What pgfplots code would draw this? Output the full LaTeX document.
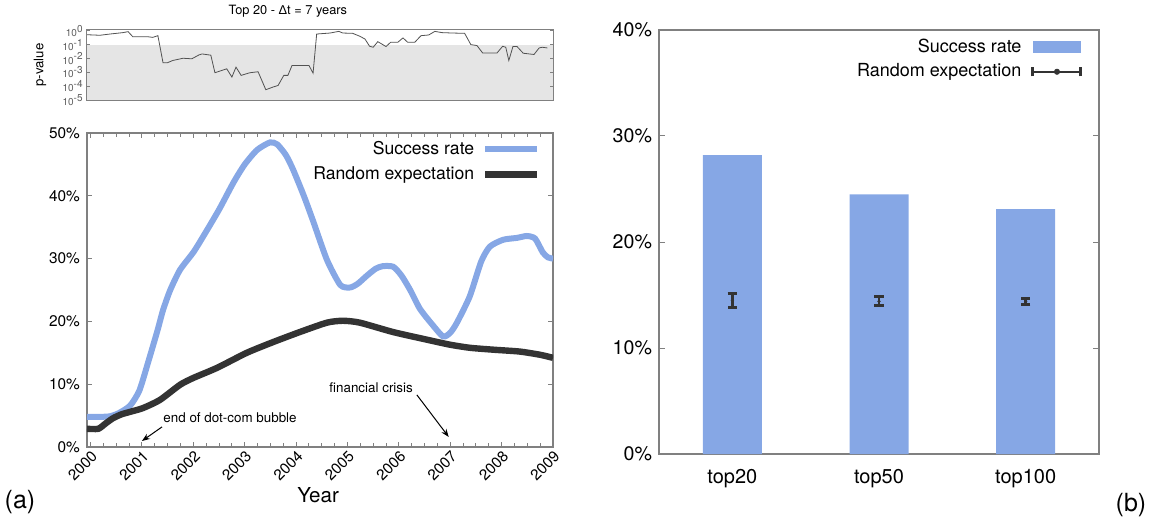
\documentclass[border=0pt]{standalone}
\usepackage{fontspec}
\setmainfont{TeX Gyre Heros}
\newfontfamily\libsans{Liberation Sans}
\usepackage{pgfplots}
\pgfplotsset{compat=1.18}
\usetikzlibrary{arrows.meta}
\definecolor{blu}{RGB}{134,167,229}
\definecolor{dk}{RGB}{51,51,51}
\definecolor{axgray}{RGB}{128,128,128}
\definecolor{bggray}{RGB}{229,229,229}
\newcommand{\fs}[2]{\fontsize{#1pt}{#2pt}\selectfont}
\begin{document}
\begin{tikzpicture}
\path[use as bounding box] (0pt,0pt) rectangle (577.5pt,260pt);

% ---------- top p-value panel ----------
\begin{axis}[
  at={(43.5pt,209.5pt)}, anchor=south west,
  scale only axis, width=233pt, height=36pt,
  xmin=1999.93, xmax=2009, ymin=-5.05, ymax=0.12,
  xtick=\empty,
  ytick={-5,-4,-3,-2,-1,0},
  yticklabels={10\textsuperscript{-5},10\textsuperscript{-4},10\textsuperscript{-3},10\textsuperscript{-2},10\textsuperscript{-1},10\textsuperscript{0}},
  yticklabel style={font=\fs{5}{6}, text=dk!80, inner sep=1.5pt},
  tick align=inside, major tick length=1.5pt,
  tick style={axgray, line width=0.4pt},
  axis line style={axgray, line width=0.5pt},
  ylabel={p-value},
  ylabel style={at={(axis description cs:-0.101,0.5)}, anchor=center, font=\fs{6.6}{8}},
  every axis title shift=0pt,
  title={Top 20 - {\libsans Δ}t = 7 years},
  title style={at={(axis description cs:0.431,1.25)}, anchor=center, font=\fs{6.4}{7.5}},
  axis on top,
]
\fill[bggray] (axis cs:1999.93,-5.05) rectangle (axis cs:2009,-1.0);
\addplot[draw=dk!85, line width=0.4pt] table {
x y
1999.93 -0.29
2000.18 -0.33
2000.38 -0.24
2000.63 -0.14
2000.73 -0.07
2000.82 -0.43
2001.10 -0.43
2001.21 -0.48
2001.31 -0.36
2001.41 -2.31
2001.49 -2.31
2001.60 -2.14
2001.80 -1.98
2001.97 -2.02
2002.11 -1.74
2002.17 -1.67
2002.34 -1.76
2002.42 -3.02
2002.65 -2.74
2002.75 -3.33
2002.83 -2.62
2002.93 -3.21
2003.10 -3.02
2003.26 -2.95
2003.41 -4.24
2003.55 -4.05
2003.65 -3.93
2003.76 -3.21
2003.84 -3.21
2003.92 -2.50
2004.13 -2.50
2004.25 -2.50
2004.33 -3.05
2004.40 -0.24
2004.66 -0.17
2004.83 -0.05
2004.91 -0.17
2005.10 -0.19
2005.24 -0.40
2005.34 -0.60
2005.43 -1.12
2005.50 -1.19
2005.59 -0.79
2005.75 -1.14
2005.84 -0.83
2005.98 -0.83
2006.08 -0.52
2006.17 -0.83
2006.31 -0.83
2006.43 -0.36
2006.58 -0.31
2006.70 -0.05
2006.84 -0.14
2007.05 -0.17
2007.28 -0.19
2007.40 -1.00
2007.52 -1.07
2007.63 -1.60
2007.91 -1.60
2008.02 -1.12
2008.08 -1.19
2008.14 -2.14
2008.22 -1.14
2008.30 -1.14
2008.42 -1.62
2008.63 -1.71
2008.73 -1.24
2008.79 -1.19
2008.89 -1.24
};
\end{axis}

% ---------- main left panel ----------
\begin{axis}[
  at={(43.5pt,36.5pt)}, anchor=south west,
  scale only axis, width=233pt, height=157pt,
  xmin=1999.93, xmax=2009, ymin=0, ymax=50,
  xtick={2000,2001,2002,2003,2004,2005,2006,2007,2008,2009},
  xticklabels={2000,2001,2002,2003,2004,2005,2006,2007,2008,2009},
  minor x tick num=3,
  ytick={0,10,20,30,40,50},
  yticklabels={0\%,10\%,20\%,30\%,40\%,50\%},
  tick align=inside, major tick length=2.5pt, minor tick length=1.8pt,
  tick style={axgray, line width=0.5pt},
  axis line style={axgray, line width=0.6pt},
  xticklabel style={rotate=45, anchor=north east, font=\fs{7.6}{8.5}, inner sep=1pt},
  yticklabel style={font=\fs{7.7}{9}},
  xlabel={Year},
  xlabel style={at={(axis description cs:0.496,-0.153)}, anchor=center, font=\fs{10.3}{12}},
  legend plot pos=right, legend cell align=right,
  legend style={at={(axis description cs:0.987,1.0)}, anchor=north east, draw=none, fill=none, font=\fs{8.8}{10}, row sep=0.5pt, column sep=2pt},
  legend image code/.code={\draw[#1] (0pt,0pt) -- (26pt,0pt);},
]
\addplot[blu, line width=3pt, smooth, tension=0.4] table {
x y
1999.93 4.8
2000.20 4.8
2000.38 4.9
2000.55 5.4
2000.77 6.6
2000.95 9.0
2001.12 13.5
2001.30 18.5
2001.41 21.8
2001.55 25.0
2001.74 28.2
2002.00 31.0
2002.19 33.5
2002.50 37.8
2002.78 42.1
2003.00 45.0
2003.24 47.3
2003.49 48.5
2003.63 48.2
2003.80 46.5
2003.94 44.2
2004.15 40.0
2004.33 36.0
2004.60 29.8
2004.86 25.8
2005.05 25.4
2005.20 26.0
2005.38 27.3
2005.55 28.4
2005.69 28.8
2005.89 28.7
2006.05 27.3
2006.22 25.0
2006.41 22.0
2006.65 19.5
2006.86 17.6
2007.00 18.2
2007.13 19.8
2007.38 24.0
2007.60 29.5
2007.77 31.9
2008.03 33.0
2008.30 33.3
2008.49 33.6
2008.65 33.2
2008.80 31.0
2008.90 30.2
2009.00 30.0
};
\addlegendentry{Success rate}
\addplot[dk, line width=3.2pt, smooth, tension=0.4] table {
x y
1999.93 2.9
2000.15 2.9
2000.30 3.8
2000.44 4.6
2000.60 5.2
2000.77 5.6
2001.02 6.2
2001.35 7.5
2001.74 9.9
2002.00 11.0
2002.46 12.6
2003.04 15.0
2003.55 16.7
2004.07 18.3
2004.60 19.8
2004.91 20.1
2005.24 19.8
2005.89 18.3
2006.54 17.1
2006.99 16.3
2007.38 15.8
2007.83 15.5
2008.35 15.2
2008.74 14.7
2008.90 14.4
2009.00 14.2
};
\addlegendentry{Random expectation}
\node[anchor=west, inner sep=0pt, font=\fs{6.7}{8}] at (axis cs:2001.41,4.6) {end of dot-com bubble};
\draw[-{Stealth[length=4pt,width=3pt]}, line width=0.5pt] (axis cs:2001.39,3.2) -- (axis cs:2001.0,0.96);
\node[anchor=center, inner sep=0pt, font=\fs{6.7}{8}] at (axis cs:2005.46,9.4) {financial crisis};
\draw[-{Stealth[length=4pt,width=3pt]}, line width=0.5pt] (axis cs:2006.35,8.3) -- (axis cs:2006.97,1.6);
\end{axis}

% ---------- right bar panel ----------
\begin{axis}[
  at={(329.5pt,33pt)}, anchor=south west,
  scale only axis, width=220pt, height=212pt,
  xmin=-0.5, xmax=2.5, ymin=0, ymax=40,
  xtick={0,1,2}, xticklabels={top20,top50,top100},
  xtick style={draw=none},
  ytick={0,10,20,30,40},
  yticklabels={0\%,10\%,20\%,30\%,40\%},
  tick align=inside, major tick length=3pt,
  tick style={axgray, line width=0.5pt},
  axis line style={axgray, line width=0.6pt},
  xticklabel style={font=\fs{10}{12}, yshift=-4pt},
  yticklabel style={font=\fs{9.8}{11}},
  legend plot pos=right, legend cell align=right,
  legend style={at={(axis description cs:0.977,0.998)}, anchor=north east, draw=none, fill=none, font=\fs{9}{10.5}, row sep=0pt, column sep=3pt},
]
\addplot[ybar, bar width=29.5pt, bar shift=0pt, fill=blu, draw=none,
  legend image code/.code={\fill[blu] (0pt,-3pt) rectangle (24pt,3pt);}]
  coordinates {(0,28.2) (1,24.5) (2,23.1)};
\addlegendentry{Success rate}
\addplot[only marks, mark=*, mark size=0.6pt, dk,
  error bars/.cd, y dir=both, y explicit,
  error bar style={line width=1.4pt, dk},
  error mark options={rotate=90, line width=1.5pt, mark size=2.3pt, dk},
  /pgfplots/legend image code/.code={\draw[dk, line width=1.2pt] (0pt,0pt) -- (24pt,0pt); \draw[dk, line width=1.5pt] (0pt,-2.3pt) -- (0pt,2.3pt) (24pt,-2.3pt) -- (24pt,2.3pt); \fill[dk] (12pt,0pt) circle (1.3pt);}]
  coordinates {(0,14.5) +- (0,0.65) (1,14.4) +- (0,0.42) (2,14.4) +- (0,0.25)};
\addlegendentry{Random expectation}
\end{axis}

\node[font=\fs{12.5}{14}] at (10pt,9pt) {(a)};
\node[font=\fs{12.5}{14}] at (565.5pt,7.5pt) {(b)};
\end{tikzpicture}
\end{document}
